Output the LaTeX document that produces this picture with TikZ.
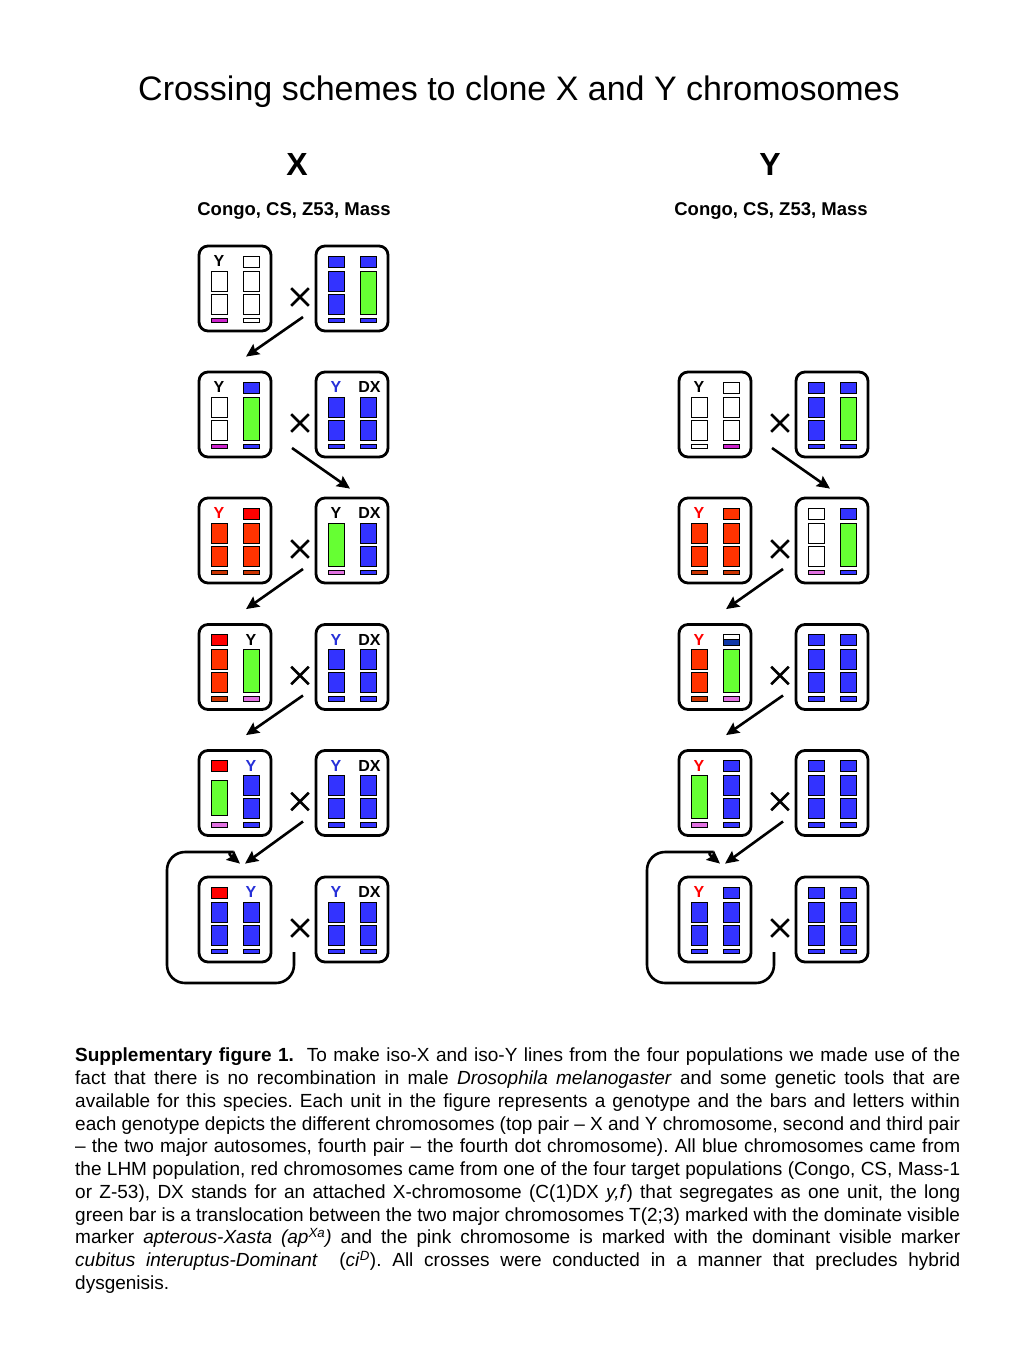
\documentclass[tikz,border=0pt]{standalone}
\usepackage{fontspec}
\setmainfont{Liberation Sans}
\usetikzlibrary{arrows.meta,positioning,shapes.misc}

\definecolor{cblue}{HTML}{3333FF}
\definecolor{cbluetxt}{HTML}{2630D8}
\definecolor{cgreen}{HTML}{66FF33}
\definecolor{cred}{HTML}{FF0000}
\definecolor{corange}{HTML}{FF3300}
\definecolor{cdred}{HTML}{CC3300}
\definecolor{cmag}{HTML}{CC22CC}
\definecolor{cpink}{HTML}{E070E0}
\definecolor{cnavy}{HTML}{1038A8}

% one genotype: name, top left x, top left y, bars
\newcommand{\unit}[4]{\node[unitbox] (#1) at (#2+36,#3+42.5) {};
  \begin{scope}[shift={(#2,#3)}]#4\end{scope}}
% bars of one column (column offset, colour)
\newcommand{\topb}[2]{\filldraw[bar,fill=#2] (#1,10) rectangle ++(16,11);}
\newcommand{\autb}[2]{\filldraw[bar,fill=#2] (#1,25) rectangle ++(16,20) (#1,48) rectangle ++(16,20);}
\newcommand{\grnb}[1]{\filldraw[bar,fill=cgreen] (#1,25) rectangle ++(16,43);}
\newcommand{\dotb}[2]{\filldraw[bar,fill=#2] (#1,72) rectangle ++(16,4.5);}
\newcommand{\bluecol}[1]{\topb{#1}{cblue}\autb{#1}{cblue}\dotb{#1}{cblue}}
\newcommand{\lab}[4]{\node[clab,text=#3] (#1) at (#2+8,20.5) {#4};}

\begin{document}
\begin{tikzpicture}[x=1pt, y=-1pt, >={Stealth[length=13pt,width=12pt,inset=2pt]},
  unitbox/.style={draw, rounded corners=9pt, line width=2.8pt, minimum width=72pt,
    minimum height=85pt, inner sep=0pt},
  bar/.style={draw=black, line width=0.8pt},
  clab/.style={font=\fontsize{16}{16}\bfseries\selectfont, anchor=base, inner sep=0pt},
  crossmark/.style={draw, cross out, line width=2.6pt, minimum size=15pt, inner sep=0pt},
  arr/.style={->, line width=2.6pt},
  head/.style={font=\fontsize{32}{36}\bfseries\selectfont, anchor=base},
  pop/.style={font=\fontsize{18.5}{22}\bfseries\selectfont, anchor=base},
]
\useasboundingbox (0,0) rectangle (1024,1365);

\node[font=\fontsize{34}{40}\selectfont, anchor=base] (title) at (519,100)
  {Crossing schemes to clone X and Y chromosomes};
\node[head] (headX) at (297,175) {X};
\node[head] (headY) at (770,175) {Y};
\node[pop] (popX) at (294,215) {Congo, CS, Z53, Mass};
\node[pop] (popY) at (771,215) {Congo, CS, Z53, Mass};

% X scheme
\unit{XL1}{199}{246}{\lab{XL1y}{12}{black}{Y}\autb{12}{white}\dotb{12}{cmag}
  \topb{44}{white}\autb{44}{white}\dotb{44}{white}}
\unit{XR1}{316}{246}{\bluecol{12}\topb{44}{cblue}\grnb{44}\dotb{44}{cblue}}
\unit{XL2}{199}{372}{\lab{XL2y}{12}{black}{Y}\autb{12}{white}\dotb{12}{cmag}
  \topb{44}{cblue}\grnb{44}\dotb{44}{cblue}}
\unit{XR2}{316}{372}{\lab{XR2y}{12}{cbluetxt}{Y}\autb{12}{cblue}\dotb{12}{cblue}
  \lab{XR2dx}{45.5}{black}{DX}\autb{44}{cblue}\dotb{44}{cblue}}
\unit{XL3}{199}{498}{\lab{XL3y}{12}{cred}{Y}\autb{12}{corange}\dotb{12}{cdred}
  \topb{44}{cred}\autb{44}{corange}\dotb{44}{cdred}}
\unit{XR3}{316}{498}{\lab{XR3y}{12}{black}{Y}\grnb{12}\dotb{12}{cpink}
  \lab{XR3dx}{45.5}{black}{DX}\autb{44}{cblue}\dotb{44}{cblue}}
\unit{XL4}{199}{624.5}{\topb{12}{cred}\autb{12}{corange}\dotb{12}{cdred}
  \lab{XL4y}{44}{black}{Y}\grnb{44}\dotb{44}{cpink}}
\unit{XR4}{316}{624.5}{\lab{XR4y}{12}{cbluetxt}{Y}\autb{12}{cblue}\dotb{12}{cblue}
  \lab{XR4dx}{45.5}{black}{DX}\autb{44}{cblue}\dotb{44}{cblue}}
\unit{XL5}{199}{750.5}{\topb{12}{cred}\filldraw[bar,fill=cgreen] (12,30) rectangle ++(16,35);
  \dotb{12}{cpink}\lab{XL5y}{44}{cbluetxt}{Y}\autb{44}{cblue}\dotb{44}{cblue}}
\unit{XR5}{316}{750.5}{\lab{XR5y}{12}{cbluetxt}{Y}\autb{12}{cblue}\dotb{12}{cblue}
  \lab{XR5dx}{45.5}{black}{DX}\autb{44}{cblue}\dotb{44}{cblue}}
\unit{XL6}{199}{877}{\topb{12}{cred}\autb{12}{cblue}\dotb{12}{cblue}
  \lab{XL6y}{44}{cbluetxt}{Y}\autb{44}{cblue}\dotb{44}{cblue}}
\unit{XR6}{316}{877}{\lab{XR6y}{12}{cbluetxt}{Y}\autb{12}{cblue}\dotb{12}{cblue}
  \lab{XR6dx}{45.5}{black}{DX}\autb{44}{cblue}\dotb{44}{cblue}}

% Y scheme
\unit{YL2}{679}{372}{\lab{YL2y}{12}{black}{Y}\autb{12}{white}\dotb{12}{white}
  \topb{44}{white}\autb{44}{white}\dotb{44}{cmag}}
\unit{YR2}{796}{372}{\bluecol{12}\topb{44}{cblue}\grnb{44}\dotb{44}{cblue}}
\unit{YL3}{679}{498}{\lab{YL3y}{12}{cred}{Y}\autb{12}{corange}\dotb{12}{cdred}
  \topb{44}{corange}\autb{44}{corange}\dotb{44}{cdred}}
\unit{YR3}{796}{498}{\topb{12}{white}\autb{12}{white}\dotb{12}{cpink}
  \topb{44}{cblue}\grnb{44}\dotb{44}{cblue}}
\unit{YL4}{679}{624.5}{\lab{YL4y}{12}{cred}{Y}\autb{12}{corange}\dotb{12}{cdred}
  \topb{44}{white}\filldraw[bar,fill=cnavy] (44,15) rectangle ++(16,6);
  \grnb{44}\dotb{44}{cpink}}
\unit{YR4}{796}{624.5}{\bluecol{12}\bluecol{44}}
\unit{YL5}{679}{750.5}{\lab{YL5y}{12}{cred}{Y}\grnb{12}\dotb{12}{cpink}\bluecol{44}}
\unit{YR5}{796}{750.5}{\bluecol{12}\bluecol{44}}
\unit{YL6}{679}{877}{\lab{YL6y}{12}{cred}{Y}\autb{12}{cblue}\dotb{12}{cblue}\bluecol{44}}
\unit{YR6}{796}{877}{\bluecol{12}\bluecol{44}}

% crosses
\foreach \r/\y in {1/297,2/423,3/549,4/675.5,5/801.5,6/928}
  \node[crossmark] (XC\r) at (300,\y) {};
\foreach \r/\y in {2/423,3/549,4/675.5,5/801.5,6/928}
  \node[crossmark] (YC\r) at (780,\y) {};

% arrows
\draw[arr] ([shift={(3,20)}]XC1.center) -- ([shift={(11,-14)}]XL2.north);
\draw[arr] ([shift={(-8,25)}]XC2.center) -- ([shift={(-2,-8)}]XR3.north);
\draw[arr] ([shift={(3,20)}]XC3.center) -- ([shift={(11,-14)}]XL4.north);
\draw[arr] ([shift={(3,20)}]XC4.center) -- ([shift={(11,-14)}]XL5.north);
\draw[arr] ([shift={(3,20)}]XC5.center) -- ([shift={(10,-12)}]XL6.north);
\draw[arr, rounded corners=18pt] ([shift={(-6,24)}]XC6.center) -- ++(0,31) -- ++(-127,0)
  -- ++(0,-131) -- ++(48,0) to[out=0,in=140] ([shift={(5,-12)}]XL6.north);

\draw[arr] ([shift={(-8,25)}]YC2.center) -- ([shift={(-2,-8)}]YR3.north);
\draw[arr] ([shift={(3,20)}]YC3.center) -- ([shift={(11,-14)}]YL4.north);
\draw[arr] ([shift={(3,20)}]YC4.center) -- ([shift={(11,-14)}]YL5.north);
\draw[arr] ([shift={(3,20)}]YC5.center) -- ([shift={(10,-12)}]YL6.north);
\draw[arr, rounded corners=18pt] ([shift={(-6,24)}]YC6.center) -- ++(0,31) -- ++(-127,0)
  -- ++(0,-131) -- ++(48,0) to[out=0,in=140] ([shift={(5,-12)}]YL6.north);

% caption
\node[anchor=north west, text width=885pt, align=justify, inner sep=0pt,
  font=\fontsize{19}{22.75}\selectfont] (caption) at (75,1048) {\frenchspacing
  \tolerance=10000\hyphenpenalty=10000\hbadness=10000
  \textbf{Supplementary figure 1.}\ \ To make iso-X and iso-Y lines from the four populations we made use of the\linebreak
  fact that there is no recombination in male \textit{Drosophila melanogaster} and some genetic tools that are\linebreak
  available for this species. Each unit in the figure represents a genotype and the bars and letters within\linebreak
  each genotype depicts the different chromosomes (top pair -- X and Y chromosome, second and third pair\linebreak
  -- the two major autosomes, fourth pair -- the fourth dot chromosome). All blue chromosomes came from\linebreak
  the LHM population, red chromosomes came from one of the four target populations (Congo, CS, Mass-1\linebreak
  or Z-53), DX stands for an attached X-chromosome (C(1)DX \textit{y,f}) that segregates as one unit, the long\linebreak
  green bar is a translocation between the two major chromosomes T(2;3) marked with the dominate visible\linebreak
  marker \textit{apterous-Xasta (ap\textsuperscript{Xa})} and the pink chromosome is marked with the dominant visible marker\linebreak
  \textit{cubitus interuptus-Dominant}\ \ (\textit{ci}\textsuperscript{\textit{D}}). All crosses were conducted in a manner that precludes hybrid\linebreak
  dysgenisis.};
\end{tikzpicture}
\end{document}
